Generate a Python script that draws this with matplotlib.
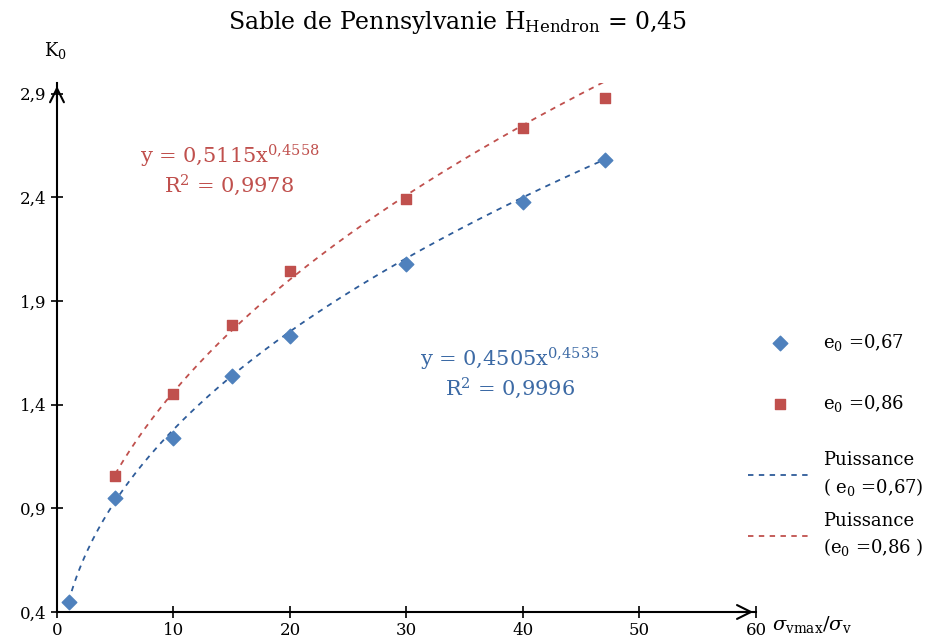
import numpy as np
import matplotlib.pyplot as plt

plt.rcParams['font.family'] = ['DejaVu Serif']
plt.rcParams['mathtext.fontset'] = 'dejavuserif'

# Data
x_067 = [1, 5, 10, 15, 20, 30, 40, 47]
k0_067 = [0.45, 0.95, 1.24, 1.54, 1.73, 2.08, 2.375, 2.58]
x_086 = [5, 10, 15, 20, 30, 40, 47]
k0_086 = [1.055, 1.45, 1.785, 2.045, 2.39, 2.735, 2.88]

# power-law trendlines given on the chart
a_067, b_067 = 0.4505, 0.4535
a_086, b_086 = 0.5115, 0.4558

xticks = [0, 10, 20, 30, 40, 50, 60]
yticks = [0.4, 0.9, 1.4, 1.9, 2.4, 2.9]

blue = '#4F81BD'
red = '#C0504D'

fig = plt.figure(figsize=(9.25, 6.44), dpi=100)
ax = fig.add_axes([0.0616, 0.0497, 0.7557, 0.821])

pts1 = ax.scatter(x_067, k0_067, marker='D', s=55, color=blue, zorder=3)
pts2 = ax.scatter(x_086, k0_086, marker='s', s=45, color=red, zorder=3)

xf1 = np.linspace(min(x_067), max(x_067), 200)
xf2 = np.linspace(min(x_086), max(x_086), 200)
fit1, = ax.plot(xf1, a_067 * xf1 ** b_067, ls=(0, (3, 3)), color='#2E5C9A', lw=1.3)
fit2, = ax.plot(xf2, a_086 * xf2 ** b_086, ls=(0, (3, 3)), color=red, lw=1.3)

ax.set_xlim(0, 60)
ax.set_ylim(0.4, 2.95)
ax.set_xticks(xticks)
ax.set_yticks(yticks)
ax.set_xticklabels([str(t) for t in xticks])
ax.set_yticklabels([str(t).replace('.', ',') for t in yticks])
ax.tick_params(direction='inout', length=8, width=1.2, labelsize=12,
               colors='black')

for s in ['top', 'right']:
    ax.spines[s].set_visible(False)
for s in ['left', 'bottom']:
    ax.spines[s].set_linewidth(1.5)

# arrow heads at axis ends
ax.annotate('', xy=(1, 0), xycoords='axes fraction', xytext=(0.97, 0),
            arrowprops=dict(arrowstyle='->', lw=1.5, mutation_scale=25))
ax.annotate('', xy=(0, 1), xycoords='axes fraction', xytext=(0, 0.96),
            arrowprops=dict(arrowstyle='->', lw=1.5, mutation_scale=25))

fig.text(0.495, 0.965, 'Sable de Pennsylvanie H$_{\\mathrm{Hendron}}$ = 0,45',
         ha='center', va='center', fontsize=17)
fig.text(0.06, 0.922, 'K$_0$', ha='center', va='center', fontsize=13)
fig.text(0.878, 0.03, '$\\sigma_{\\mathrm{vmax}}/\\sigma_{\\mathrm{v}}$',
         ha='center', va='center', fontsize=14)

ax.text(14.8, 2.53, 'y = 0,5115x$^{0{,}4558}$\nR$^2$ = 0,9978', color=red,
        ha='center', va='center', fontsize=15, linespacing=1.1)
ax.text(38.9, 1.55, 'y = 0,4505x$^{0{,}4535}$\nR$^2$ = 0,9996', color='#3C6AA5',
        ha='center', va='center', fontsize=15, linespacing=1.1)

leg1 = fig.legend([pts1, pts2], ['e$_0$ =0,67', 'e$_0$ =0,86'],
                  loc='center left', bbox_to_anchor=(0.8086, 0.421),
                  frameon=False, fontsize=13, labelspacing=2.2, borderpad=0,
                  handlelength=3.6, handletextpad=0.55, borderaxespad=0)
leg2 = fig.legend([fit1, fit2],
                  ['Puissance\n( e$_0$ =0,67)', 'Puissance\n(e$_0$ =0,86 )'],
                  loc='center left', bbox_to_anchor=(0.8086, 0.216),
                  frameon=False, fontsize=13, labelspacing=0.75, borderpad=0,
                  handlelength=3.6, handletextpad=0.55, borderaxespad=0)
for t in leg2.get_texts():
    t.set_linespacing(1.4)

fig.savefig('out.png', dpi=100)
